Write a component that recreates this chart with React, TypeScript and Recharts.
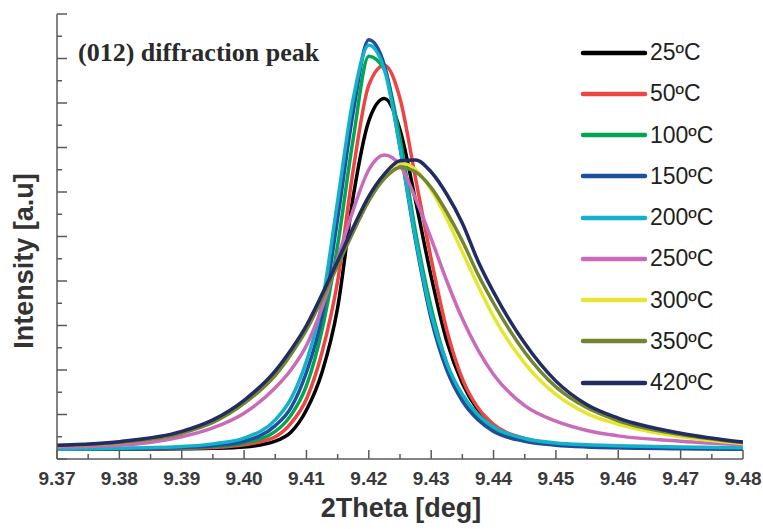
import React from "react";
import { LineChart, Line, XAxis, YAxis, Legend, Label } from "recharts";

// 2Theta positions (deg)
const twoTheta = [
  9.37, 9.38, 9.39, 9.395, 9.4, 9.405, 9.4075, 9.41, 9.4125, 9.415, 9.4175, 9.42, 9.4225,
  9.425, 9.4275, 9.43, 9.4325, 9.435, 9.4375, 9.44, 9.445, 9.45, 9.455, 9.46, 9.47, 9.48,
];

// intensity (a.u.)
const i25 = [0.22, 0.22, 0.23, 0.24, 0.27, 0.4, 0.6, 1.1, 1.95, 3.4, 5.9, 7.6, 8.1, 7.4, 5.8, 4.1, 2.65, 1.7, 1.1, 0.75, 0.45, 0.33, 0.29, 0.27, 0.25, 0.23];
const i50 = [0.22, 0.23, 0.24, 0.26, 0.32, 0.5, 0.8, 1.35, 2.4, 4.0, 6.5, 8.4, 8.85, 8.1, 6.3, 4.5, 2.9, 1.8, 1.15, 0.78, 0.46, 0.34, 0.3, 0.27, 0.25, 0.23];
const i100 = [0.22, 0.23, 0.25, 0.28, 0.36, 0.62, 0.98, 1.65, 2.9, 4.8, 7.2, 9.05, 8.75, 7.2, 5.1, 3.4, 2.15, 1.38, 0.93, 0.66, 0.42, 0.32, 0.28, 0.26, 0.24, 0.23];
const i150 = [0.22, 0.23, 0.26, 0.3, 0.4, 0.75, 1.15, 1.95, 3.2, 5.4, 7.8, 9.42, 8.85, 7.0, 4.9, 3.15, 2.0, 1.3, 0.88, 0.62, 0.4, 0.31, 0.27, 0.25, 0.23, 0.22];
const i200 = [0.22, 0.24, 0.28, 0.34, 0.47, 0.88, 1.35, 2.2, 3.5, 5.8, 8.1, 9.3, 8.75, 7.0, 4.95, 3.25, 2.15, 1.45, 1.0, 0.72, 0.46, 0.36, 0.32, 0.3, 0.27, 0.25];
const i250 = [0.27, 0.31, 0.5, 0.7, 1.03, 1.6, 2.0, 2.55, 3.4, 4.5, 5.6, 6.5, 6.83, 6.6, 5.85, 4.95, 4.0, 3.15, 2.45, 1.9, 1.2, 0.85, 0.64, 0.52, 0.4, 0.32];
const i300 = [0.3, 0.37, 0.59, 0.84, 1.27, 1.92, 2.38, 2.95, 3.65, 4.4, 5.2, 5.9, 6.4, 6.65, 6.5, 6.05, 5.4, 4.65, 3.9, 3.2, 2.15, 1.45, 1.02, 0.78, 0.5, 0.35];
const i350 = [0.3, 0.37, 0.58, 0.82, 1.25, 1.88, 2.35, 2.9, 3.6, 4.35, 5.1, 5.8, 6.3, 6.55, 6.45, 6.1, 5.55, 4.9, 4.15, 3.5, 2.4, 1.62, 1.15, 0.86, 0.55, 0.37];
const i420 = [0.31, 0.39, 0.62, 0.88, 1.32, 1.98, 2.45, 3.0, 3.7, 4.45, 5.2, 5.9, 6.4, 6.7, 6.72, 6.45, 5.95, 5.3, 4.45, 3.75, 2.6, 1.75, 1.22, 0.92, 0.58, 0.38];

const xMajorTicks = [9.37, 9.38, 9.39, 9.4, 9.41, 9.42, 9.43, 9.44, 9.45, 9.46, 9.47, 9.48];
const xMinorTicks = [9.375, 9.385, 9.395, 9.405, 9.415, 9.425, 9.435, 9.445, 9.455, 9.465, 9.475];
const yMajorTicks = [0, 1, 2, 3, 4, 5, 6, 7, 8, 9, 10];
const yMinorTicks = [0.5, 1.5, 2.5, 3.5, 4.5, 5.5, 6.5, 7.5, 8.5, 9.5];

const series = [
  { key: "t25", name: "25ºC", values: i25, color: "#000000" },
  { key: "t50", name: "50ºC", values: i50, color: "#ef4444" },
  { key: "t100", name: "100ºC", values: i100, color: "#00a651" },
  { key: "t150", name: "150ºC", values: i150, color: "#1f4e9e" },
  { key: "t200", name: "200ºC", values: i200, color: "#14b2c8" },
  { key: "t250", name: "250ºC", values: i250, color: "#c96bb8" },
  { key: "t300", name: "300ºC", values: i300, color: "#e6e632" },
  { key: "t350", name: "350ºC", values: i350, color: "#728530" },
  { key: "t420", name: "420ºC", values: i420, color: "#222b62" },
];

const data = twoTheta.map((x, i) => {
  const row: Record<string, number> = { x };
  series.forEach((s) => (row[s.key] = s.values[i]));
  return row;
});

const isMajor = (v: number, majors: number[]) => majors.some((m) => Math.abs(m - v) < 1e-6);
const xTicks = [...xMajorTicks, ...xMinorTicks].sort((a, b) => a - b);
const yTicks = [...yMajorTicks, ...yMinorTicks].sort((a, b) => a - b);

const AXIS = "#5a5a5a";
const SANS = '"Liberation Sans", Arial, sans-serif';

const BottomTick = ({ x, y, payload }: any) => {
  const major = isMajor(payload.value, xMajorTicks);
  return (
    <g>
      <line x1={x} x2={x} y1={y} y2={y - (major ? 9 : 5)} stroke={AXIS} strokeWidth={1.5} />
      {major && (
        <text x={x} y={y + 26} textAnchor="middle" fontFamily={SANS} fontWeight="bold" fontSize={19} fill="#3a3a3a">
          {payload.value.toFixed(2)}
        </text>
      )}
    </g>
  );
};

const TopTick = ({ x, y, payload }: any) => {
  const major = isMajor(payload.value, xMajorTicks);
  return <line x1={x} x2={x} y1={y} y2={y + (major ? 9 : 5)} stroke={AXIS} strokeWidth={1.5} />;
};

const LeftTick = ({ x, y, payload }: any) => {
  const major = isMajor(payload.value, yMajorTicks);
  return <line x1={x} x2={x + (major ? 10 : 5)} y1={y} y2={y} stroke={AXIS} strokeWidth={1.5} />;
};

const RightTick = ({ x, y, payload }: any) => {
  const major = isMajor(payload.value, yMajorTicks);
  return <line x1={x} x2={x - (major ? 10 : 5)} y1={y} y2={y} stroke={AXIS} strokeWidth={1.5} />;
};

const renderLegend = ({ payload }: any) => {
  const order = series.map((s) => s.name);
  const items = [...(payload || [])].sort((a: any, b: any) => order.indexOf(a.value) - order.indexOf(b.value));
  return (
    <div>
      {items.map((entry: any) => (
        <div key={entry.value} style={{ display: "flex", alignItems: "center", height: 41.25 }}>
          <svg width={68} height={10}>
            <line x1={3} y1={5} x2={65} y2={5} stroke={entry.color} strokeWidth={4.5} strokeLinecap="round" />
          </svg>
          <span style={{ fontFamily: SANS, fontSize: 23, color: "#231f20", marginLeft: 2, lineHeight: 1 }}>
            {entry.value}
          </span>
        </div>
      ))}
    </div>
  );
};

export default function App() {
  return (
    <div style={{ position: "absolute", left: 0, top: 0 }}>
      <LineChart width={763} height={529} data={data} margin={{ top: 14, right: 20, bottom: 0, left: 0 }}>
        <XAxis
          dataKey="x"
          type="number"
          domain={[9.37, 9.48]}
          ticks={xTicks}
          interval={0}
          height={70}
          tickSize={0}
          tickMargin={0}
          tickLine={false}
          axisLine={{ stroke: AXIS, strokeWidth: 1.5 }}
          tick={<BottomTick />}
          allowDataOverflow
        >
          <Label
            content={() => (
              <text x={401} y={517} textAnchor="middle" fontFamily={SANS} fontWeight="bold" fontSize={27} fill="#333">
                2Theta [deg]
              </text>
            )}
          />
        </XAxis>
        <XAxis
          xAxisId="top"
          orientation="top"
          dataKey="x"
          type="number"
          domain={[9.37, 9.48]}
          ticks={xTicks}
          interval={0}
          height={0}
          tickSize={0}
          tickMargin={0}
          tickLine={false}
          axisLine={{ stroke: AXIS, strokeWidth: 1.5 }}
          tick={<TopTick />}
        />
        <YAxis
          type="number"
          domain={[0, 10]}
          ticks={yTicks}
          interval={0}
          width={57}
          tickSize={0}
          tickMargin={0}
          tickLine={false}
          axisLine={{ stroke: AXIS, strokeWidth: 1.5 }}
          tick={<LeftTick />}
        >
          <Label
            content={() => (
              <text
                x={33}
                y={261}
                transform="rotate(-90 33 261)"
                textAnchor="middle"
                fontFamily={SANS}
                fontWeight="bold"
                fontSize={27}
                fill="#333"
              >
                Intensity [a.u]
              </text>
            )}
          />
          <Label
            content={() => (
              <text
                x={78}
                y={61}
                fontFamily='"Liberation Serif", "Times New Roman", serif'
                fontWeight="bold"
                fontSize={26}
                fill="#2a2a2a"
              >
                (012) diffraction peak
              </text>
            )}
          />
        </YAxis>
        <YAxis
          yAxisId="right"
          orientation="right"
          type="number"
          domain={[0, 10]}
          ticks={yTicks}
          interval={0}
          width={0}
          tickSize={0}
          tickMargin={0}
          tickLine={false}
          axisLine={{ stroke: AXIS, strokeWidth: 1.5 }}
          tick={<RightTick />}
        />
        <Legend
          layout="vertical"
          align="center"
          verticalAlign="middle"
          content={renderLegend}
          wrapperStyle={{ position: "absolute", left: 580, top: 32, width: 175 }}
        />
        {series.map((s) => (
          <Line
            key={s.key}
            type="monotone"
            dataKey={s.key}
            name={s.name}
            stroke={s.color}
            strokeWidth={3.5}
            dot={false}
            activeDot={false}
            isAnimationActive={false}
          />
        ))}
      </LineChart>
    </div>
  );
}
